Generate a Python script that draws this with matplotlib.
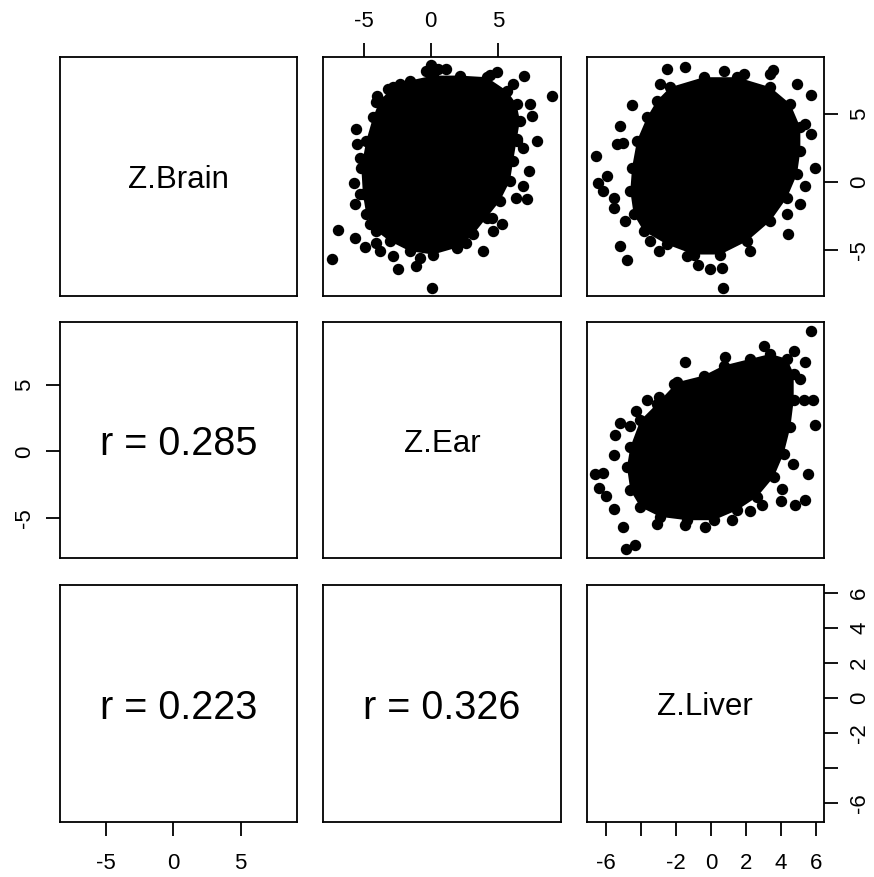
"""
Scatterplot matrix of Z.Brain, Z.Ear and Z.Liver (R pairs() look-alike).
The dense point clouds are drawn as a filled core outline plus the
stray points visible around each cloud.
"""

import matplotlib
matplotlib.use("Agg")
import matplotlib.pyplot as plt

plt.rcParams["font.family"] = ["Liberation Sans", "DejaVu Sans"]
plt.rcParams["axes.unicode_minus"] = False

variables = ["Z.Brain", "Z.Ear", "Z.Liver"]

# r values shown in the lower panels (row, col)
r_cells = [(1, 0), (2, 0), (2, 1)]
r_values = [0.285, 0.223, 0.326]

# axis range of each variable
brain_lim = (-8.4, 9.2)
ear_lim = (-8.0, 9.7)
liver_lim = (-7.1, 6.45)

brain_ticks = [-5, 0, 5]
ear_ticks = [-5, 0, 5]
liver_ticks = [-6, -4, -2, 0, 2, 4, 6]
liver_ticklabels = ["-6", "", "-2", "0", "2", "4", "6"]

# --- Z.Ear (x) vs Z.Brain (y) ---
ear_brain_core_x = [-1.57, 0.17, 2.16, 4.16, 5.65, 6.39, 6.64, 6.39, 6.14, 5.90,
                    5.15, 4.16, 3.16, 1.92, 0.17, -1.57, -3.06, -4.05, -4.80,
                    -5.05, -5.17, -4.80, -4.30, -3.80, -2.81]
ear_brain_core_y = [7.48, 7.85, 7.85, 7.73, 6.74, 5.75, 4.52, 3.04, 1.56, 0.07,
                    -1.41, -2.64, -3.88, -4.86, -5.36, -5.11, -4.37, -3.63, -2.40,
                    -0.91, 1.06, 3.04, 4.76, 6.00, 6.99]
ear_brain_pts_x = [0.10, -7.37, -6.92, -2.44, -1.12, -4.93, -3.81, -2.81, -5.67,
                   3.86, 4.60, 5.27, 7.14, 6.34, 6.89, 7.34, 7.89, 9.00, 6.97,
                   4.95, 4.40, 6.14, 0.05, -0.32, 0.55, 1.17, -2.31, -3.19, -4.00,
                   -4.10, -5.55, -5.50, -5.30, -5.72, -5.30, -5.67, -4.55, 7.51,
                   7.39, 6.89, 6.39, -4.05, -0.82, 2.66, 4.53]
ear_brain_pts_y = [-7.80, -5.68, -3.53, -6.42, -6.22, -4.79, -5.10, -5.48, -4.12,
                   -5.10, -3.63, -3.13, -1.24, -1.16, -0.30, 0.81, 3.04, 6.37, 7.85,
                   8.15, 7.93, 7.24, 8.60, 8.22, 8.35, 8.35, 7.24, 6.87, 6.37,
                   5.87, 3.90, 2.79, 1.80, -0.05, -0.91, -1.65, -3.13, 4.89,
                   5.75, 2.54, 3.16, -4.50, -5.60, -4.50, -2.64]

# --- Z.Liver (x) vs Z.Brain (y) ---
liver_brain_core_x = [-2.33, -0.42, 1.49, 3.39, 4.53, 5.10, 5.10, 4.91, 4.34, 3.39,
                      2.06, 0.53, -0.99, -2.51, -3.85, -4.42, -4.61, -4.51, -4.23,
                      -3.66, -3.09]
liver_brain_core_y = [6.99, 7.73, 7.73, 6.99, 5.75, 4.02, 2.30, 0.57, -1.16, -2.89,
                      -4.37, -5.36, -5.36, -4.62, -3.63, -2.39, -0.67, 1.06, 3.04,
                      4.76, 6.00]
liver_brain_pts_x = [-2.51, -1.47, 0.72, 3.54, 3.39, 4.91, 5.73, 5.68, 5.96, 5.39,
                     5.10, 4.40, 2.25, 0.63, 0.67, -0.08, -0.74, -4.80, -5.18,
                     -6.57, -6.46, -6.19, -5.56, -5.22, -4.51, -5.37, -5.00, -5.94,
                     -5.56, -4.90, -3.47, -2.99, -1.37, -2.90, 1.86, 5.39, 4.34]
liver_brain_pts_y = [8.35, 8.52, 8.22, 8.27, 7.98, 7.24, 6.44, 3.53, 1.06, -0.30,
                     -1.65, -3.83, -5.11, -6.35, -7.83, -6.43, -6.15, -5.73, -4.74,
                     1.88, -0.05, -0.67, -1.90, 4.15, 5.70, 2.79, 2.90, 0.44,
                     -1.16, -2.89, -4.37, -5.11, -5.48, 7.24, 7.98, 4.27, -2.39]

# --- Z.Liver (x) vs Z.Ear (y) ---
liver_ear_core_x = [-4.61, -4.04, -3.09, -1.94, -0.42, 0.72, 2.25, 3.39, 4.34, 4.72,
                    4.72, 4.53, 4.15, 3.58, 2.63, 1.49, 0.15, -1.37, -2.90, -4.04,
                    -4.61, -4.80]
liver_ear_core_y = [0.32, 2.31, 3.56, 5.17, 5.67, 6.42, 6.92, 7.29, 6.92, 5.80,
                    3.81, 1.81, -0.17, -1.92, -3.41, -4.40, -5.15, -5.15, -4.90,
                    -4.16, -2.91, -1.17]
liver_ear_pts_x = [5.71, -1.47, 5.39, 5.83, 5.96, 5.52, 5.39, 4.82, 4.00, 4.06,
                   2.91, 2.25, 1.20, -0.33, -1.47, -3.09, -4.33, -4.84, -5.03,
                   -5.56, -5.98, -6.42, -6.61, -6.17, -5.56, -5.47, -5.22, -4.61,
                   -4.27, -3.66, -2.99, -2.14, 0.82, 3.01, 4.72, 5.29, 4.69, 5.10]
liver_ear_pts_y = [9.03, 6.66, 6.66, 3.86, 1.94, -1.72, -3.66, -4.03, -3.73, -2.78,
                   -4.03, -4.45, -5.10, -5.65, -5.52, -5.40, -6.97, -7.34, -5.65,
                   -4.28, -3.36, -2.74, -1.67, -1.62, -0.30, 1.19, 2.11, 1.87,
                   2.99, 3.81, 4.05, 5.05, 7.04, 7.91, 7.54, 3.86, -0.92, 5.42]

# panel edges in pixels (figure is 874 x 877)
col_edges = [(60, 297.3), (323.3, 561), (586.7, 824)]
row_edges = [(57.3, 295.7), (321.7, 558.3), (585, 822.3)]

FIG_W, FIG_H = 874, 877


def draw_cloud(ax, core_x, core_y, pts_x, pts_y):
    # solid core, dots sitting on its rim, then the stray points
    ax.fill(core_x, core_y, color="black", lw=0, zorder=2)
    ax.plot(core_x, core_y, "o", color="black", markersize=7.2, zorder=3)
    ax.plot(pts_x, pts_y, "o", color="black", markersize=7.2, zorder=3)


def main():
    fig = plt.figure(figsize=(FIG_W / 100, FIG_H / 100), dpi=100)
    lims = [brain_lim, ear_lim, liver_lim]

    axes = [[None] * 3 for _ in range(3)]
    for i, (top, bottom) in enumerate(row_edges):
        for j, (left, right) in enumerate(col_edges):
            ax = fig.add_axes([left / FIG_W, 1 - bottom / FIG_H,
                               (right - left) / FIG_W, (bottom - top) / FIG_H])
            ax.set_xlim(lims[j])
            ax.set_ylim(lims[i])
            ax.set_xticks([])
            ax.set_yticks([])
            for s in ax.spines.values():
                s.set_linewidth(1.3)
            ax.tick_params(length=10, width=1.3, labelsize=16, pad=8)
            axes[i][j] = ax

    # diagonal labels
    for k, name in enumerate(variables):
        axes[k][k].text(0.5, 0.5, name, transform=axes[k][k].transAxes,
                        ha="center", va="center_baseline", fontsize=22.5)

    # lower panels: correlations
    for (i, j), r in zip(r_cells, r_values):
        axes[i][j].text(0.5, 0.5, f"r = {r:.3f}", transform=axes[i][j].transAxes,
                        ha="center", va="center_baseline", fontsize=28.5)

    # upper panels: scatter clouds
    draw_cloud(axes[0][1], ear_brain_core_x, ear_brain_core_y,
               ear_brain_pts_x, ear_brain_pts_y)
    draw_cloud(axes[0][2], liver_brain_core_x, liver_brain_core_y,
               liver_brain_pts_x, liver_brain_pts_y)
    draw_cloud(axes[1][2], liver_ear_core_x, liver_ear_core_y,
               liver_ear_pts_x, liver_ear_pts_y)

    # outer axes, placed the way pairs() alternates them
    ax = axes[0][1]
    ax.set_xticks(ear_ticks)
    ax.xaxis.tick_top()

    ax = axes[0][2]
    ax.set_yticks(brain_ticks)
    ax.yaxis.tick_right()
    ax.tick_params(axis="y", labelrotation=90)

    ax = axes[1][0]
    ax.set_yticks(ear_ticks)
    ax.tick_params(axis="y", labelrotation=90)

    ax = axes[2][0]
    ax.set_xticks(brain_ticks)
    ax.tick_params(axis="x", pad=12)

    ax = axes[2][2]
    ax.set_xticks(liver_ticks)
    ax.set_xticklabels(liver_ticklabels)
    ax.tick_params(axis="x", pad=12)
    ax.set_yticks(liver_ticks)
    ax.set_yticklabels(liver_ticklabels)
    ax.yaxis.tick_right()
    ax.tick_params(axis="y", labelrotation=90)

    for row in axes:
        for a in row:
            for lab in a.get_yticklabels():
                lab.set_va("center")

    fig.savefig("out.png", dpi=100)
    plt.close(fig)


if __name__ == "__main__":
    main()
